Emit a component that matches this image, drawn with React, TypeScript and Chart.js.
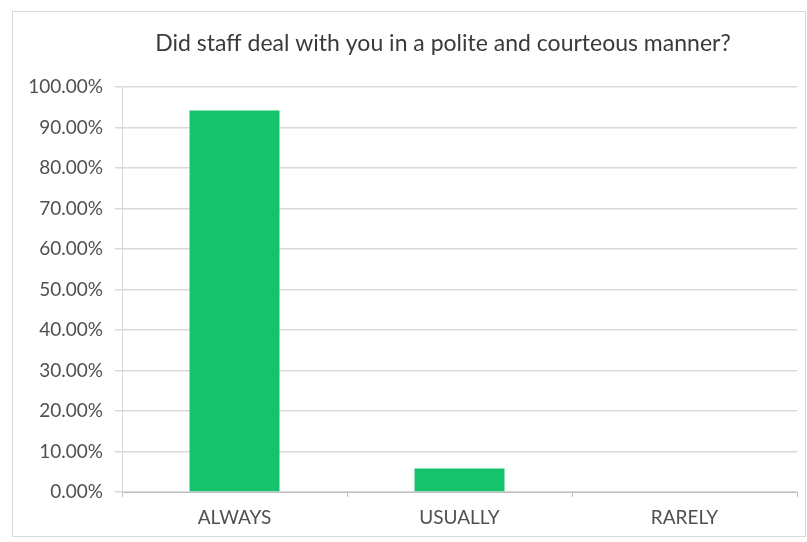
import React, { useEffect, useRef } from "react";
import { Chart, registerables } from "chart.js";

Chart.register(...registerables);

const TITLE = "Did staff deal with you in a polite and courteous manner?";
const categories = ["ALWAYS", "USUALLY", "RARELY"];
const percentages = [94.2, 5.8, 0];
const yMin = 0;
const yMax = 100;
const yStep = 10;

const FONT = "Lato";
const BAR_COLOR = "#14C36B";
const TEXT_COLOR = "#505050";
const GRID_COLOR = "#d9d9d9";

export default function App() {
  const canvasRef = useRef<HTMLCanvasElement | null>(null);

  useEffect(() => {
    if (!canvasRef.current) return;
    const titlePlugin = {
      id: "customTitle",
      afterDraw(chart: any) {
        const ctx = chart.ctx;
        ctx.save();
        ctx.font = `23px ${FONT}`;
        ctx.fillStyle = "#3a3a3a";
        ctx.textAlign = "center";
        ctx.textBaseline = "middle";
        ctx.fillText(TITLE, 443, 44);
        ctx.restore();
      },
    };
    const chart = new Chart(canvasRef.current, {
      type: "bar",
      data: {
        labels: categories,
        datasets: [
          {
            data: percentages,
            backgroundColor: BAR_COLOR,
            borderWidth: 0,
            barPercentage: 0.4,
            categoryPercentage: 1,
          },
        ],
      },
      options: {
        responsive: false,
        animation: false,
        layout: { padding: { left: 0, right: 10, top: 87, bottom: 0 } },
        plugins: {
          legend: { display: false },
          title: { display: false },
          tooltip: { enabled: false },
        },
        scales: {
          x: {
            afterFit(scale: any) {
              scale.height = 50;
            },
            grid: {
              display: true,
              drawOnChartArea: false,
              drawTicks: true,
              tickLength: 5,
              color: "#bfbfbf",
            },
            border: { display: true, color: "#bfbfbf" },
            ticks: {
              color: TEXT_COLOR,
              font: { family: FONT, size: 19 },
              padding: 9,
              maxRotation: 0,
            },
          },
          y: {
            min: yMin,
            max: yMax,
            afterFit(scale: any) {
              scale.width = 122;
            },
            grid: {
              color: GRID_COLOR,
              tickLength: 7,
              lineWidth: 1.5,
            },
            border: { display: true, color: GRID_COLOR },
            ticks: {
              stepSize: yStep,
              color: TEXT_COLOR,
              font: { family: FONT, size: 19 },
              padding: 12,
              callback: (v: any) => Number(v).toFixed(2) + "%",
            },
          },
        },
      },
      plugins: [titlePlugin],
    });
    return () => chart.destroy();
  }, []);

  return (
    <div
      style={{
        position: "absolute",
        left: 0,
        top: 0,
        width: 807,
        height: 542,
        background: "#fff",
        overflow: "hidden",
      }}
    >
      <div
        style={{
          position: "absolute",
          left: 12,
          top: 11,
          width: 794,
          height: 526,
          border: "1px solid #d9d9d9",
          boxSizing: "border-box",
        }}
      />
      <canvas
        ref={canvasRef}
        width={807}
        height={542}
        style={{ position: "absolute", left: 0, top: 0, display: "block" }}
      />
    </div>
  );
}
